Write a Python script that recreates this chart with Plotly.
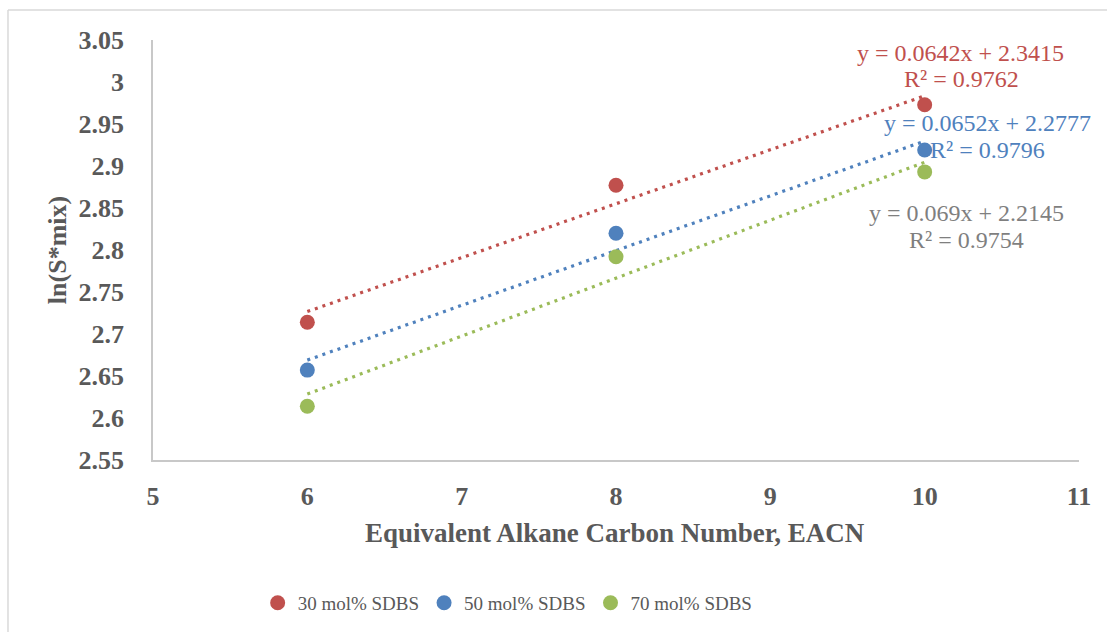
import plotly.graph_objects as go

# Measured data: ln(S*mix) against EACN for three SDBS fractions
eacn = [6, 8, 10]
ln_s_30 = [2.714, 2.877, 2.973]
ln_s_50 = [2.657, 2.820, 2.919]
ln_s_70 = [2.614, 2.792, 2.893]

series_names = ["30 mol% SDBS", "50 mol% SDBS", "70 mol% SDBS"]
series_colors = ["#C0504D", "#4F81BD", "#9BBB59"]
label_colors = ["#C0504D", "#4F81BD", "#7F7F7F"]

# Linear trendline coefficients and fit quality
slopes = [0.0642, 0.0652, 0.069]
intercepts = [2.3415, 2.2777, 2.2145]
r_squared = ["0.9762", "0.9796", "0.9754"]
slope_text = ["0.0642", "0.0652", "0.069"]
intercept_text = ["2.3415", "2.2777", "2.2145"]

# Label anchor positions (data units) for the trendline equations
eq_pos = [(10.23, 3.0346), (10.41, 2.9514), (10.27, 2.8445)]
r2_pos = [(10.24, 3.0037), (10.41, 2.9194), (10.27, 2.8125)]

x_ticks = [5, 6, 7, 8, 9, 10, 11]
y_ticks = [2.55, 2.6, 2.65, 2.7, 2.75, 2.8, 2.85, 2.9, 2.95, 3.0, 3.05]
y_tick_text = ["2.55", "2.6", "2.65", "2.7", "2.75", "2.8", "2.85", "2.9", "2.95", "3", "3.05"]

FONT = "Liberation Serif"
TEXT_GRAY = "#595959"
AXIS_GRAY = "#C8C8C8"

fig = go.Figure()
all_series = [ln_s_30, ln_s_50, ln_s_70]

x_lo, x_hi = min(eacn), max(eacn)
for name, ys, color, m, b in zip(series_names, all_series, series_colors, slopes, intercepts):
    # dotted linear trendline across the measured EACN range
    fig.add_trace(go.Scatter(
        x=[x_lo, x_hi], y=[m * x_lo + b, m * x_hi + b],
        mode="lines", line=dict(color=color, width=3.2, dash="3px,5px"),
        showlegend=False, hoverinfo="skip",
    ))
for name, ys, color in zip(series_names, all_series, series_colors):
    fig.add_trace(go.Scatter(
        x=eacn, y=ys, mode="markers", name=name,
        marker=dict(color=color, size=15, line=dict(width=0)),
    ))

annotations = []
for i in range(3):
    annotations.append(dict(
        x=eq_pos[i][0], y=eq_pos[i][1], xref="x", yref="y",
        text=f"y = {slope_text[i]}x + {intercept_text[i]}", showarrow=False,
        font=dict(family=FONT, size=24, color=label_colors[i]),
        xanchor="center", yanchor="middle",
    ))
    annotations.append(dict(
        x=r2_pos[i][0], y=r2_pos[i][1], xref="x", yref="y",
        text=f"R² = {r_squared[i]}", showarrow=False,
        font=dict(family=FONT, size=24, color=label_colors[i]),
        xanchor="center", yanchor="middle",
    ))

# Axis titles
annotations.append(dict(
    x=0.499, y=-0.1734, xref="paper", yref="paper",
    text="<b>Equivalent Alkane Carbon Number, EACN</b>", showarrow=False,
    font=dict(family=FONT, size=27, color=TEXT_GRAY),
    xanchor="center", yanchor="middle",
))
annotations.append(dict(
    x=-0.1035, y=0.5, xref="paper", yref="paper",
    text="<b>ln(S*mix)</b>", showarrow=False, textangle=-90,
    font=dict(family=FONT, size=26, color=TEXT_GRAY),
    xanchor="center", yanchor="middle",
))

# Chart-area frame (left and top edges)
shapes = [
    dict(type="line", xref="paper", yref="paper", x0=-0.1566, x1=-0.1566, y0=1.0713, y1=-0.45,
         line=dict(color="#D9D9D9", width=1.5)),
    dict(type="line", xref="paper", yref="paper", x0=-0.1566, x1=1.05, y0=1.0713, y1=1.0713,
         line=dict(color="#D9D9D9", width=1.5)),
]

fig.update_layout(
    width=1107, height=632,
    margin=dict(l=153, r=28, t=40, b=171),
    paper_bgcolor="white", plot_bgcolor="white",
    font=dict(family=FONT, color=TEXT_GRAY),
    showlegend=True,
    legend=dict(
        orientation="h", x=0.383, xanchor="center", y=-0.337, yanchor="middle",
        font=dict(family=FONT, size=19, color=TEXT_GRAY),
        bgcolor="rgba(0,0,0,0)", itemwidth=30, tracegroupgap=0,
    ),
    annotations=annotations,
    shapes=shapes,
)
fig.update_xaxes(
    range=[5, 11], tickvals=x_ticks, ticktext=[str(v) for v in x_ticks],
    showgrid=False, zeroline=False, showline=True, linecolor=AXIS_GRAY, linewidth=1.5,
    ticks="", ticklabelstandoff=12,
    tickfont=dict(family=FONT, size=26, color=TEXT_GRAY, weight="bold"),
)
fig.update_yaxes(
    range=[2.55, 3.05], tickvals=y_ticks, ticktext=y_tick_text,
    showgrid=False, zeroline=False, showline=True, linecolor=AXIS_GRAY, linewidth=1.5,
    ticks="", ticklabelstandoff=22,
    tickfont=dict(family=FONT, size=26, color=TEXT_GRAY, weight="bold"),
)

fig.write_html("out.html")
